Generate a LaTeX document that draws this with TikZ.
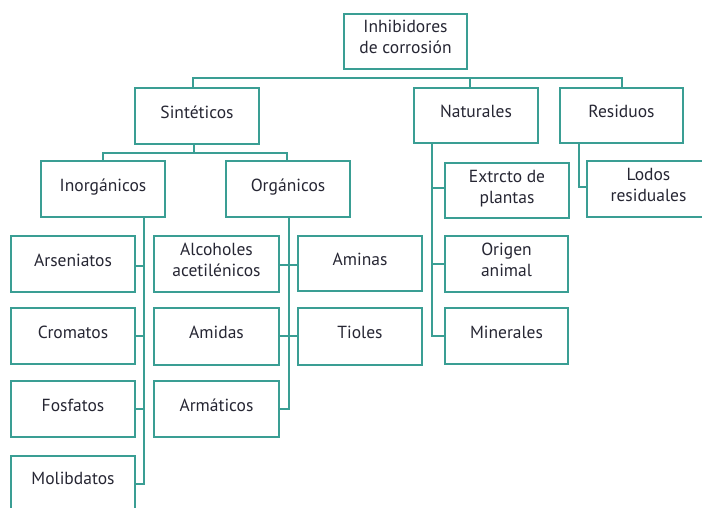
\documentclass[tikz,border=0pt]{standalone}
\usepackage{fontspec}
\setmainfont{PT Sans}
\definecolor{teal1}{HTML}{3A9E94}
\definecolor{txt}{HTML}{262633}
\newcommand{\bt}[2][2pt]{\raisebox{#1}[\height][\depth]{\begin{tabular}{@{}c@{}}#2\end{tabular}}}
\begin{document}
\begin{tikzpicture}[x=1pt,y=1pt,
  box/.style={draw=teal1,line width=1.7pt,minimum width=124pt,minimum height=56pt,inner sep=0pt,align=center,text=txt,font=\fontsize{17.5}{21}\selectfont},
  link/.style={draw=teal1,line width=1.7pt}]
\useasboundingbox (0,0) rectangle (702,-508);
\clip (0,0) rectangle (702,-508);
\node[box,minimum width=123pt,minimum height=55pt] (root) at (405.5,-41.5) {\bt[3pt]{Inhibidores\\de corrosión}};
\node[box] (sint) at (197,-116) {\bt{Sintéticos}};
\node[box,minimum height=55pt] (nat) at (476,-115.5) {\bt{Naturales}};
\node[box,minimum width=123pt,minimum height=55pt] (res) at (621.5,-115.5) {\bt{Residuos}};
\node[box] (inorg) at (103,-189) {\bt{Inorgánicos}};
\node[box] (org) at (288,-189) {\bt{Orgánicos}};
\node[box,minimum height=55pt] (extr) at (507,-190.5) {\bt{Extrcto de\\plantas}};
\node[box,minimum width=123pt] (lodos) at (648.5,-189) {\bt{Lodos\\residuales}};
\node[box] (arsen) at (73,-264) {\bt{Arseniatos}};
\node[box] (crom) at (73,-336) {\bt{Cromatos}};
\node[box] (fosf) at (73,-409) {\bt{Fosfatos}};
\node[box] (molib) at (73,-484) {\bt[4pt]{Molibdatos}};
\node[box,minimum width=125pt] (alc) at (216.5,-264) {\bt{Alcoholes\\acetilénicos}};
\node[box,minimum width=125pt,minimum height=57pt] (amid) at (216.5,-336.5) {\bt{Amidas}};
\node[box,minimum width=125pt] (arm) at (216.5,-409) {\bt{Armáticos}};
\node[box,minimum height=55pt] (amin) at (360,-263.5) {\bt{Aminas}};
\node[box,minimum height=57pt] (tiol) at (360,-336.5) {\bt{Tioles}};
\node[box,minimum width=123pt] (orig) at (506.5,-264) {\bt{Origen\\animal}};
\node[box,minimum width=123pt] (miner) at (506.5,-336) {\bt{Minerales}};
% top level
\draw[link] ([xshift=-4pt]sint.north) |- (622,-78) coordinate (bus) -- (res.north -| bus);
\draw[link] ([xshift=-6pt]nat.north) -- ++(0,10);
% sinteticos
\draw[link] ([xshift=-3pt]sint.south) -- ++(0,-8) coordinate (s1);
\draw[link] (inorg.north) |- (s1) -| ([xshift=-1pt]org.north);
% inorganicos
\coordinate (ispine) at (144,0);
\draw[link] (inorg.south -| ispine) |- (molib.east);
\draw[link] ([yshift=-2pt]arsen.east) -- ([yshift=-2pt]arsen.east -| ispine);
\draw[link] (crom.east) -- (crom.east -| ispine);
\draw[link] (fosf.east) -- (fosf.east -| ispine);
% organicos
\coordinate (ospine) at (289,0);
\draw[link] (org.south -| ospine) |- (arm.east);
\draw[link] ([yshift=-1pt]alc.east) -- ([yshift=-1pt]alc.east -| amin.west);
\draw[link] ([yshift=0.5pt]amid.east) -- ([yshift=0.5pt]tiol.west);
% naturales
\coordinate (nspine) at (432,0);
\draw[link] (nat.south -| nspine) |- (miner.west);
\draw[link] ([yshift=2.5pt]extr.west) -- ([yshift=2.5pt]extr.west -| nspine);
\draw[link] (orig.west) -- (orig.west -| nspine);
% residuos
\draw[link] (res.south -| 579,0) |- ([yshift=2pt]lodos.west);
\end{tikzpicture}
\end{document}
